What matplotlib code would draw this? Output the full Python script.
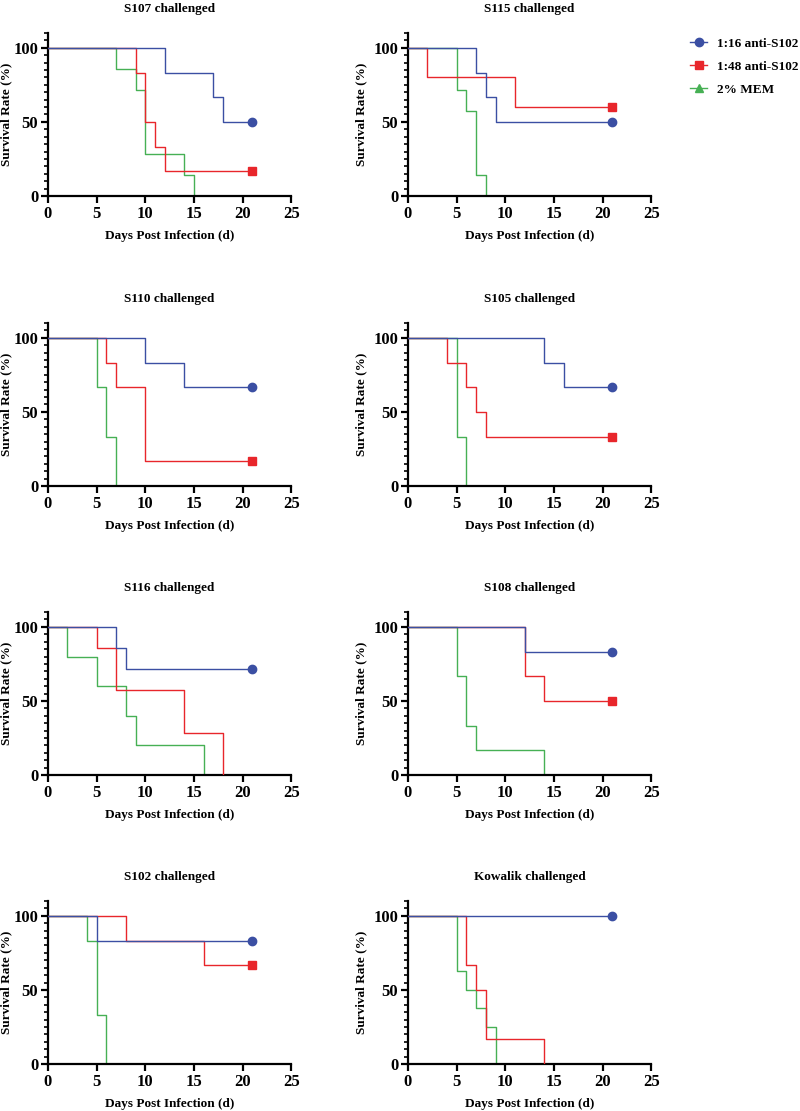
import matplotlib
matplotlib.use('Agg')
import matplotlib.pyplot as plt
from matplotlib.ticker import MultipleLocator
from matplotlib.lines import Line2D

plt.rcParams['font.family'] = ['Liberation Serif', 'DejaVu Serif']
plt.rcParams['font.weight'] = 'bold'

# (day, survival %) pairs for each group; 1:16 anti-S102, 1:48 anti-S102, 2% MEM
s107_a16 = [(0, 100), (12, 83.3), (17, 66.7), (18, 50), (21, 50)]
s107_a48 = [(0, 100), (9, 83.3), (10, 50), (11, 33.3), (12, 16.7), (21, 16.7)]
s107_mem = [(0, 100), (7, 85.7), (9, 71.4), (10, 28.6), (14, 14.3), (15, 0)]

s115_a16 = [(0, 100), (7, 83.3), (8, 66.7), (9, 50), (21, 50)]
s115_a48 = [(0, 100), (2, 80), (11, 60), (21, 60)]
s115_mem = [(0, 100), (5, 71.4), (6, 57.1), (7, 14.3), (8, 0)]

s110_a16 = [(0, 100), (10, 83.3), (14, 66.7), (21, 66.7)]
s110_a48 = [(0, 100), (6, 83.3), (7, 66.7), (10, 16.7), (21, 16.7)]
s110_mem = [(0, 100), (5, 66.7), (6, 33.3), (7, 0)]

s105_a16 = [(0, 100), (14, 83.3), (16, 66.7), (21, 66.7)]
s105_a48 = [(0, 100), (4, 83.3), (6, 66.7), (7, 50), (8, 33.3), (21, 33.3)]
s105_mem = [(0, 100), (5, 33.3), (6, 0)]

s116_a16 = [(0, 100), (7, 85.7), (8, 71.4), (21, 71.4)]
s116_a48 = [(0, 100), (5, 85.7), (7, 57.1), (14, 28.6), (18, 0)]
s116_mem = [(0, 100), (2, 80), (5, 60), (8, 40), (9, 20), (16, 0)]

s108_a16 = [(0, 100), (12, 83.3), (21, 83.3)]
s108_a48 = [(0, 100), (12, 66.7), (14, 50), (21, 50)]
s108_mem = [(0, 100), (5, 66.7), (6, 33.3), (7, 16.7), (14, 0)]

s102_a16 = [(0, 100), (5, 83.3), (21, 83.3)]
s102_a48 = [(0, 100), (8, 83.3), (16, 66.7), (21, 66.7)]
s102_mem = [(0, 100), (4, 83.3), (5, 33.3), (6, 0)]

kow_a16 = [(0, 100), (21, 100)]
kow_a48 = [(0, 100), (6, 66.7), (7, 50), (8, 16.7), (14, 0)]
kow_mem = [(0, 100), (5, 62.5), (6, 50), (7, 37.5), (8, 25), (9, 0)]

titles = ['S107 challenged', 'S115 challenged', 'S110 challenged', 'S105 challenged',
          'S116 challenged', 'S108 challenged', 'S102 challenged', 'Kowalik challenged']
panels = [(s107_a16, s107_a48, s107_mem), (s115_a16, s115_a48, s115_mem),
          (s110_a16, s110_a48, s110_mem), (s105_a16, s105_a48, s105_mem),
          (s116_a16, s116_a48, s116_mem), (s108_a16, s108_a48, s108_mem),
          (s102_a16, s102_a48, s102_mem), (kow_a16, kow_a48, kow_mem)]
group_names = ['1:16 anti-S102', '1:48 anti-S102', '2% MEM']
colors = ['#3b4fa3', '#e8262b', '#46b054']
markers = ['o', 's', '^']

fig = plt.figure(figsize=(8, 11.11), dpi=100)
lefts = [0.06, 0.51]
ylabel_x = [-0.148, -0.169]
bottoms = [0.8236, 0.5626, 0.3024, 0.0423]

for k, (title, groups) in enumerate(zip(titles, panels)):
    ax = fig.add_axes([lefts[k % 2], bottoms[k // 2], 0.304, 0.1467])
    # MEM first, 1:16 anti-S102 last so it sits on top
    for g in [2, 1, 0]:
        pts = groups[g]
        t = [p[0] for p in pts]
        s = [p[1] for p in pts]
        ax.step(t, s, where='post', color=colors[g], lw=1.0, zorder=2 + (2 - g))
        if s[-1] > 0:
            ax.plot(t[-1], s[-1], marker=markers[g], color=colors[g], ms=6,
                    ls='none', zorder=5, clip_on=False)
    ax.set_xlim(0, 25)
    ax.set_ylim(0, 110)
    ax.set_xticks([0, 5, 10, 15, 20, 25])
    ax.set_yticks([0, 50, 100])
    ax.yaxis.set_minor_locator(MultipleLocator(5))
    for side in ['top', 'right']:
        ax.spines[side].set_visible(False)
    for side in ['left', 'bottom']:
        ax.spines[side].set_linewidth(1.6)
    ax.tick_params(which='major', length=5, width=1.6, labelsize=12, pad=2)
    ax.tick_params(which='minor', length=3, width=1.2)
    for lab in ax.get_xticklabels() + ax.get_yticklabels():
        lab.set_fontweight('bold')
    ax.set_title(title, fontsize=9.5, fontweight='bold', pad=15)
    ax.set_xlabel('Days Post Infection (d)', fontsize=9.5, fontweight='bold', labelpad=6)
    ax.set_ylabel('Survival Rate (%)', fontsize=9.5, fontweight='bold')
    ax.yaxis.set_label_coords(ylabel_x[k % 2], 0.5)

handles = [Line2D([], [], color=colors[i], marker=markers[i], ms=6, lw=1.0)
           for i in range(3)]
fig.legend(handles, group_names, loc='upper left', bbox_to_anchor=(0.8625, 0.966),
           frameon=False, prop={'size': 9.5, 'weight': 'bold'}, borderpad=0,
           borderaxespad=0, handlelength=1.3, labelspacing=0.8, handletextpad=0.75)

fig.savefig('out.png', dpi=100)
